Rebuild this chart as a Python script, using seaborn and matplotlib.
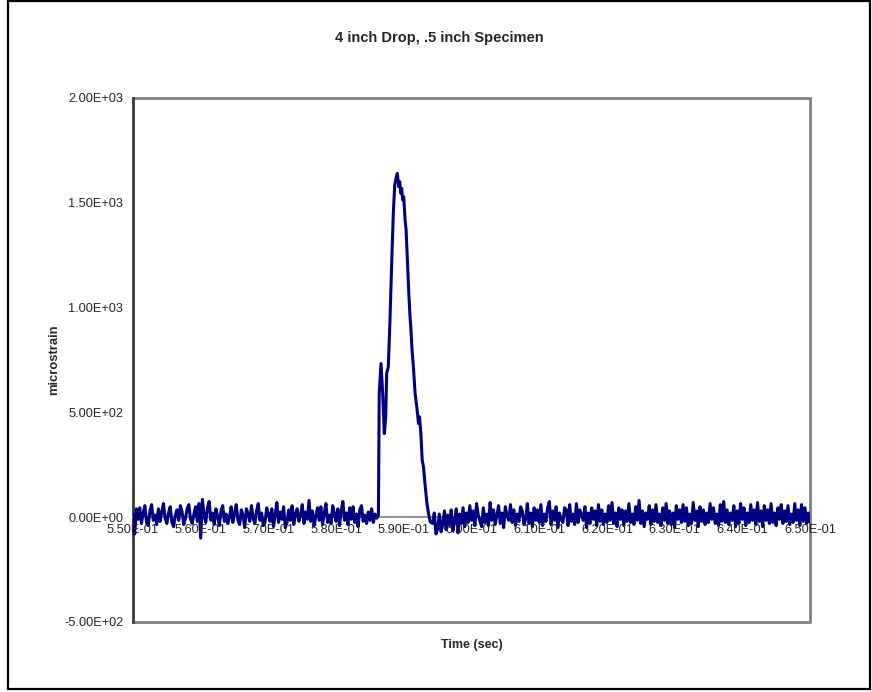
import numpy as np
import pandas as pd
import matplotlib
matplotlib.use("Agg")
import matplotlib.pyplot as plt
from matplotlib.patches import Rectangle
from matplotlib.ticker import FuncFormatter
import seaborn as sns

# ---------------- data ----------------
dt = 0.00025
pre_start = 0.55
pre_strain = [
    15, -80, 40, -10, 45, -30, 20, 55, -25, -40,
    30, 60, -15, 10, -35, 40, -20, 25, 65, -5,
    -30, 20, 50, -25, -45, 10, 35, -15, 55, 25,
    -35, -5, 40, 60, -10, -30, 15, 50, -20, 65,
    -100, 85, 10, -25, 45, 75, -15, 20, -35, 40,
    5, -40, 30, 55, -20, 15, -30, 0, 50, -25,
    20, 60, -15, -35, 35, 10, -50, 40, 15, -20,
    55, -5, -30, 30, 65, -15, 20, -40, -25, 45,
    15, -20, 40, -45, 10, 70, -25, 25, -10, 50,
    -50, -25, 35, -15, 55, -35, 15, 40, -20, 10,
    60, -30, 25, -10, 80, -20, 30, -40, 5, 45,
    -15, 50, -35, 20, 65, -25, 10, -30, 55, 15,
    -20, 40, -40, 30, 75, -15, 20, -35, 45, -10,
    50, -25, 15, -45, 35, 55, -20, 10, -30, 25,
    -15, 40, -25, 15, -5]

peak_time = [0.58625, 0.58637, 0.58663, 0.58688, 0.58712, 0.58733, 0.58747,
             0.58771, 0.58796, 0.58821, 0.58845, 0.58866, 0.58885, 0.58904,
             0.58925, 0.58940, 0.58955, 0.58969, 0.58984, 0.58999, 0.59019,
             0.59034, 0.59053, 0.59074, 0.59092, 0.59103, 0.59122, 0.59142,
             0.59167, 0.59192, 0.59217, 0.59232, 0.59252, 0.59272, 0.59291,
             0.59317, 0.59342, 0.59365, 0.59390]
peak_strain = [10, 590, 733, 590, 399, 479, 686,
               717, 940, 1211, 1450, 1585, 1617, 1641,
               1577, 1601, 1546, 1569, 1513, 1529, 1418,
               1370, 1227, 1068, 956, 908, 797, 717,
               590, 526, 447, 479, 399, 272, 240,
               145, 65, 18, -22]

post_start = 0.59425
post_strain = [
    -30, 20, -80, -55, 15, -70, -35, 30, -60, 10,
    -40, 35, -65, -20, 40, -75, 15, -30, 45, -45,
    20, -25, 55, -15, 30, -40, 65, 10, -20, -45,
    45, -25, 15, -40, 70, -15, 35, -35, 10, 55,
    -30, 20, -50, 50, 5, -15, 60, -25, 35, -40,
    15, -20, 50, 30, -35, -10, 65, -30, 20, -45,
    45, -15, 35, -25, 60, -40, 15, -20, 45, 75,
    -35, 30, -15, 50, -50, 20, -10, -25, 45, 35,
    -40, 60, -20, 15, -35, 65, -25, 35, 10, -15,
    50, -50, 20, -30, 45, -10, 30, -40, 60, -20,
    35, -35, 15, -25, 55, -15, 70, -30, 20, -45,
    45, -10, 35, -40, 30, -20, 65, -25, 15, -35,
    50, -15, 80, -30, 30, -45, 20, -10, 55, -35,
    35, -20, 60, -25, 15, -40, 45, -15, 65, -30,
    30, -35, 20, -50, 55, -10, 35, -25, 60, -20,
    45, -40, 15, -30, 70, -15, 30, -45, 50, -20,
    35, -35, 20, -25, 65, -10, 45, -30, 15, -40,
    60, -20, 75, -25, 35, -35, 20, -15, 55, -45,
    30, -30, 65, -10, 45, -40, 20, -25, 60, -15,
    35, -35, 70, -20, 30, -45, 55, -15, 35, -30,
    65, -25, 20, -40, 45, -10, 60, -30, 30, -20,
    55, -35, 15, -25, 65, -15, 35, -40, 60, -20,
    45, -30, 20, -25]

x_ticks = [0.55, 0.56, 0.57, 0.58, 0.59, 0.60, 0.61, 0.62, 0.63, 0.64, 0.65]
y_ticks = [-500, 0, 500, 1000, 1500, 2000]

title = "4 inch Drop, .5 inch Specimen"
xlabel = "Time (sec)"
ylabel = "microstrain"

# ---------------- build frame ----------------
pre_time = pre_start + dt * np.arange(len(pre_strain))
post_time = post_start + dt * np.arange(len(post_strain))
df = pd.DataFrame({
    "time": np.concatenate([pre_time, peak_time, post_time]),
    "strain": np.concatenate([pre_strain, peak_strain, post_strain]),
})

# ---------------- plot ----------------
sns.set_style("white")
plt.rcParams["font.family"] = ["Liberation Sans", "DejaVu Sans"]

W, H = 872, 692
fig = plt.figure(figsize=(W / 100, H / 100), dpi=100)
ax = fig.add_axes([133 / W, 1 - 622 / H, (810 - 133) / W, (622 - 98) / H])

sns.lineplot(data=df, x="time", y="strain", ax=ax, color="#000080",
             linewidth=2.2, estimator=None, sort=False, zorder=3)

ax.set_xlim(x_ticks[0], x_ticks[-1])
ax.set_ylim(y_ticks[0], y_ticks[-1])
ax.set_xticks(x_ticks)
ax.set_yticks(y_ticks)
ax.xaxis.set_major_formatter(FuncFormatter(lambda v, p: f"{v:.2E}"))
ax.yaxis.set_major_formatter(FuncFormatter(lambda v, p: f"{v:.2E}"))

for s in ["top", "right"]:
    ax.spines[s].set_visible(False)
ax.spines["bottom"].set_position(("data", 0))
ax.spines["bottom"].set_color("#808080")
ax.spines["bottom"].set_linewidth(1.2)
ax.spines["left"].set_color("#404040")
ax.spines["left"].set_linewidth(2)
ax.add_patch(Rectangle((0, 0), 1, 1, transform=ax.transAxes, fill=False,
                       ec="#808080", lw=2, zorder=0.5, clip_on=False))

ax.tick_params(axis="x", direction="out", length=4, width=1, color="#000000",
               labelsize=9.2, pad=1)
ax.tick_params(axis="y", direction="out", length=5, width=1, color="#000000",
               labelsize=9.2, pad=2)
ax.xaxis.set_zorder(4)
ax.set_xlabel("")
ax.set_ylabel("")

fig.text(439 / W, 1 - 38 / H, title, ha="center", va="center",
         fontsize=10.5, fontweight="bold")
fig.text(472 / W, 1 - 645 / H, xlabel, ha="center", va="center",
         fontsize=9.0, fontweight="bold")
fig.text(54 / W, 1 - 360 / H, ylabel, ha="center", va="center",
         fontsize=9.4, fontweight="bold", rotation=90)

fig.patches.append(Rectangle((8 / W, 1 - 689 / H), (870 - 8) / W, (689 - 1) / H,
                             transform=fig.transFigure, fill=False,
                             ec="black", lw=1.6))

fig.savefig("out.png", dpi=100)
